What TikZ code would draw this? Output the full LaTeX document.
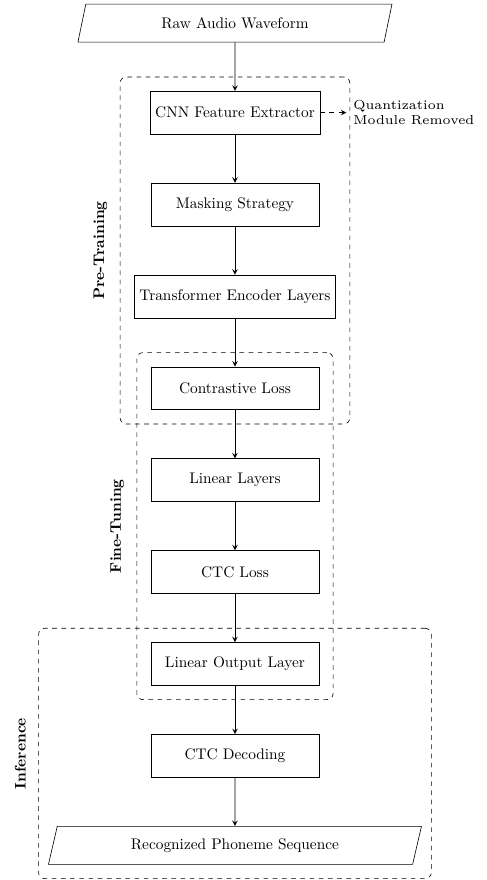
\documentclass[tikz,border=0pt]{standalone}
\usepackage{tikz}
\usetikzlibrary{chains,positioning,fit,shapes.geometric,arrows}

\begin{document}
\begin{tikzpicture}[block/.style={rectangle, draw, minimum width=3.84cm, minimum height=0.98cm},
        io/.style={trapezium, trapezium left angle=70, trapezium right angle=110, trapezium stretches body, draw, minimum height=0.87cm},
        group/.style={draw, dashed, rounded corners, inner sep=0.32cm},
        phase/.style={rotate=90, anchor=south, font=\bfseries, inner sep=8pt},
        >=stealth, start chain=going below, node distance=1.11cm]
        \useasboundingbox (-5.38,0.53) rectangle (5.75,-19.62);
        % Nodes
        \node[io, minimum width=7.19cm, on chain] (raw) {Raw Audio Waveform};
        \node[block, on chain] (cnn) {CNN Feature Extractor};
        \node[block, on chain] (mask) {Masking Strategy};
        \node[block, on chain] (trans) {Transformer Encoder Layers};
        \node[block, on chain] (contr) {Contrastive Loss};
        \node[block, on chain] (lin) {Linear Layers};
        \node[block, on chain] (ctcloss) {CTC Loss};
        \node[block, on chain] (linout) {Linear Output Layer};
        \node[block, on chain] (ctcdec) {CTC Decoding};
        \node[io, minimum width=8.54cm, on chain] (recog) {Recognized Phoneme Sequence};
        \node[right=0.6cm of cnn, align=left, font={\fontsize{6}{7}\selectfont}, scale=1.42, transform shape, inner sep=3pt] (quant) {Quantization\\Module Removed};
        % Phases
        \node[group, fit=(cnn) (mask) (trans) (contr)] (pre) {};
        \node[group, fit=(contr) (lin) (ctcloss) (linout)] (fine) {};
        \node[group, fit=(linout) (ctcdec) (recog)] (inf) {};
        \node[phase] at (pre.west) (prelbl) {Pre-Training};
        \node[phase] at (fine.west) (finelbl) {Fine-Tuning};
        \node[phase] at (inf.west) (inflbl) {Inference};
        % Edges
        \draw[semithick, ->] (raw) -- (cnn);
        \draw[semithick, ->] (cnn) -- (mask);
        \draw[semithick, ->] (mask) -- (trans);
        \draw[semithick, ->] (trans) -- (contr);
        \draw[semithick, ->] (contr) -- (lin);
        \draw[semithick, ->] (lin) -- (ctcloss);
        \draw[semithick, ->] (ctcloss) -- (linout);
        \draw[semithick, ->] (linout) -- (ctcdec);
        \draw[semithick, ->] (ctcdec) -- (recog);
        \draw[semithick, dashed, ->] (cnn) -- (quant);
    \end{tikzpicture}
\end{document}
